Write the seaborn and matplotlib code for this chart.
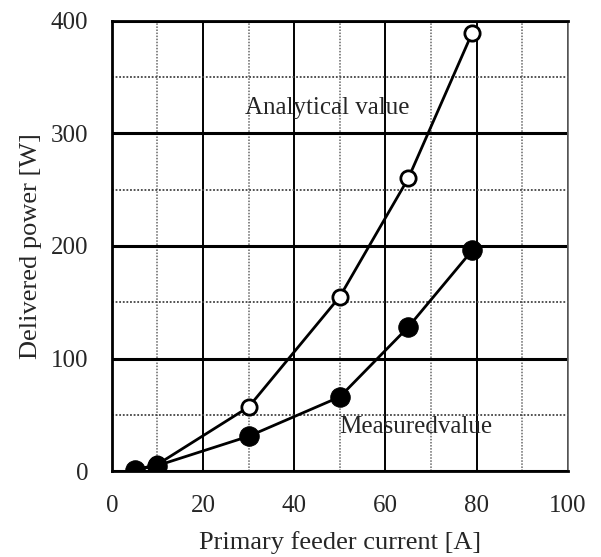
import matplotlib
matplotlib.use("Agg")
import matplotlib.pyplot as plt
import seaborn as sns
import pandas as pd
from matplotlib.ticker import MultipleLocator

# Data
analytical_x = [5, 10, 30, 50, 65, 79]
analytical_y = [1, 6, 57, 155, 260, 389]
measured_x = [5, 10, 30, 50, 65, 79]
measured_y = [1, 5, 31, 66, 128, 196]

x_ticks = [0, 20, 40, 60, 80, 100]
y_ticks = [0, 100, 200, 300, 400]

sns.set_style("white")
plt.rcParams['font.family'] = ['Liberation Serif', 'DejaVu Serif']

df_a = pd.DataFrame({"x": analytical_x, "y": analytical_y})
df_m = pd.DataFrame({"x": measured_x, "y": measured_y})

fig = plt.figure(figsize=(6.01, 5.57), dpi=100)
ax = fig.add_axes([0.186, 0.154, 0.759, 0.809])

ax.set_xlim(0, 100)
ax.set_ylim(0, 400)
ax.xaxis.set_major_locator(MultipleLocator(20))
ax.xaxis.set_minor_locator(MultipleLocator(10))
ax.yaxis.set_major_locator(MultipleLocator(100))
ax.yaxis.set_minor_locator(MultipleLocator(50))

# grid
ax.xaxis.grid(True, which='major', color='black', lw=1.4, ls='-')
ax.yaxis.grid(True, which='major', color='black', lw=2.2, ls='-')
ax.xaxis.grid(True, which='minor', color='#666666', lw=1.1, ls=(0, (1, 1)))
ax.yaxis.grid(True, which='minor', color='#444444', lw=1.3, ls=(0, (1, 1)))
ax.set_axisbelow(True)

sns.lineplot(data=df_a, x="x", y="y", ax=ax, color='black', lw=2.0,
             marker='o', markersize=11, markerfacecolor='white',
             markeredgecolor='black', markeredgewidth=2.0, zorder=3)
sns.lineplot(data=df_m, x="x", y="y", ax=ax, color='black', lw=2.0,
             marker='o', markersize=14, markerfacecolor='black',
             markeredgecolor='black', zorder=4)

ax.text(47.2, 322, "Analytical value", fontsize=18, ha='center', va='center')
ax.text(66.7, 39, "Measuredvalue", fontsize=18, ha='center', va='center')

for s in ['left', 'bottom', 'top']:
    ax.spines[s].set_color('black')
    ax.spines[s].set_linewidth(2.0)
ax.spines['right'].set_color('#666666')
ax.spines['right'].set_linewidth(1.2)
ax.spines['right'].set_linestyle((0, (1, 1)))

ax.tick_params(axis='both', which='major', direction='out', length=12,
               width=2.0, color='black', labelsize=18, pad=5)
ax.tick_params(axis='both', which='minor', direction='out', length=6,
               width=1.5, color='black')
ax.set_xticks(x_ticks)
ax.set_yticks(y_ticks)

ax.set_xlabel("Primary feeder current [A]", fontsize=19, labelpad=10)
ax.set_ylabel("Delivered power [W]", fontsize=19, labelpad=6)

fig.savefig("out.png", dpi=100)
